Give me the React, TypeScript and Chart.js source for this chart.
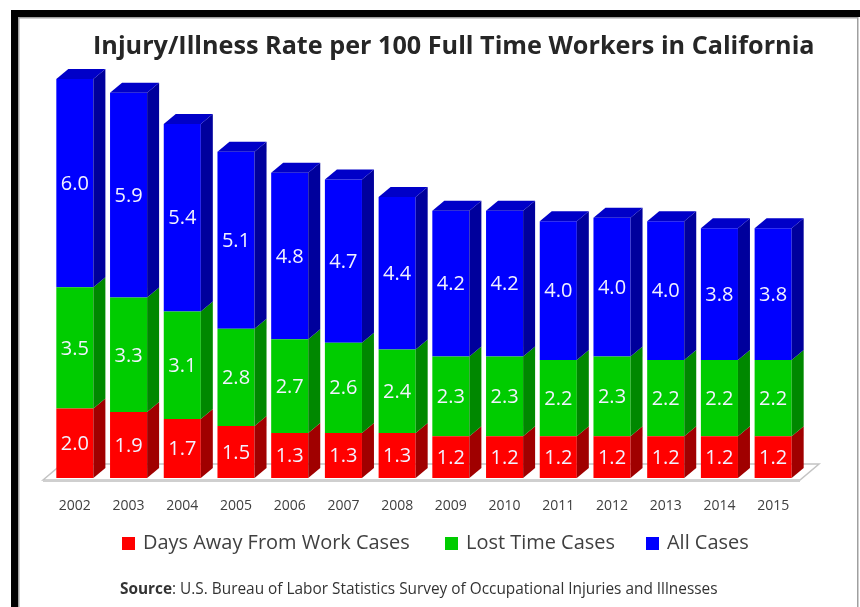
import React, { useEffect, useRef } from 'react';
import { Chart, registerables } from 'chart.js';
Chart.register(...registerables);

const years = ['2002', '2003', '2004', '2005', '2006', '2007', '2008', '2009', '2010', '2011', '2012', '2013', '2014', '2015'];
const daysAway = [2.0, 1.9, 1.7, 1.5, 1.3, 1.3, 1.3, 1.2, 1.2, 1.2, 1.2, 1.2, 1.2, 1.2];
const lostTime = [3.5, 3.3, 3.1, 2.8, 2.7, 2.6, 2.4, 2.3, 2.3, 2.2, 2.3, 2.2, 2.2, 2.2];
const allCases = [6.0, 5.9, 5.4, 5.1, 4.8, 4.7, 4.4, 4.2, 4.2, 4.0, 4.0, 4.0, 3.8, 3.8];
const seriesNames = ['Days Away From Work Cases', 'Lost Time Cases', 'All Cases'];
const titleText = 'Injury/Illness Rate per 100 Full Time Workers in California';
const sourceBold = 'Source';
const sourceRest = ': U.S. Bureau of Labor Statistics Survey of Occupational Injuries and Illnesses';

const FRONT = ['#ff0000', '#00cc00', '#0000ff'];
const SIDE = ['#a00000', '#008800', '#00009c'];
const TOP = ['#cc0000', '#00a800', '#0000c8'];
const DX = 12;
const DY = 10;
const FONT = '"Open Sans", "Noto Sans", sans-serif';

function fitFont(ctx: CanvasRenderingContext2D, text: string, weight: string, target: number, base: number) {
  ctx.font = `${weight} ${base}px ${FONT}`;
  const w = ctx.measureText(text).width;
  return Math.max(6, base * target / w);
}

const decorPlugin = {
  id: 'decor',
  beforeDraw(chart: any) {
    const ctx = chart.ctx as CanvasRenderingContext2D;
    ctx.save();
    ctx.fillStyle = '#ffffff';
    ctx.fillRect(0, 0, chart.width, chart.height);
    // frame
    ctx.fillStyle = '#000000';
    ctx.fillRect(11, 10, 849, 7);
    ctx.fillRect(11, 10, 7, 597);
    ctx.fillStyle = '#a0a0a0';
    ctx.fillRect(18, 17, 840, 1.5);
    ctx.fillRect(18, 17, 1.5, 590);
    ctx.fillRect(857, 17, 1.5, 590);
    // title
    const ts = fitFont(ctx, titleText, 'bold', 722, 24);
    ctx.font = `bold ${ts}px ${FONT}`;
    ctx.fillStyle = '#262626';
    ctx.textAlign = 'left';
    ctx.textBaseline = 'alphabetic';
    ctx.fillText(titleText, 93, 54);
    // legend
    const lx = [122, 445, 646];
    const ls = fitFont(ctx, seriesNames[0], 'normal', 267, 18);
    ctx.font = `${ls}px ${FONT}`;
    ctx.textBaseline = 'middle';
    for (let i = 0; i < 3; i++) {
      ctx.fillStyle = FRONT[i];
      ctx.fillRect(lx[i], 537, 13, 13);
      ctx.fillStyle = '#404040';
      ctx.fillText(seriesNames[i], lx[i] + 21, 543);
    }
    // source
    ctx.font = `bold 13px ${FONT}`;
    const wb = ctx.measureText(sourceBold).width;
    ctx.font = `13px ${FONT}`;
    const wr = ctx.measureText(sourceRest).width;
    const k = 598 / (wb + wr);
    const fs = 13 * k;
    ctx.fillStyle = '#333333';
    ctx.textBaseline = 'alphabetic';
    ctx.font = `bold ${fs}px ${FONT}`;
    ctx.fillText(sourceBold, 120, 594);
    const wb2 = ctx.measureText(sourceBold).width;
    ctx.font = `${fs}px ${FONT}`;
    ctx.fillText(sourceRest, 120 + wb2, 594);
    ctx.restore();
  },
  beforeDatasetsDraw(chart: any) {
    const ctx = chart.ctx as CanvasRenderingContext2D;
    const a = chart.chartArea;
    ctx.save();
    // floor slab
    const fl = a.left - 5, fr = a.right, fy = a.bottom + 2;
    ctx.beginPath();
    ctx.moveTo(fl, fy);
    ctx.lineTo(fl + 19, fy - 16);
    ctx.lineTo(fr + 19, fy - 16);
    ctx.lineTo(fr, fy);
    ctx.closePath();
    ctx.fillStyle = '#ffffff';
    ctx.fill();
    ctx.strokeStyle = '#c4c4c4';
    ctx.lineWidth = 1.5;
    ctx.stroke();
    ctx.fillStyle = '#cfcfcf';
    ctx.fillRect(fl, fy, fr - fl, 2);
    ctx.restore();
  },
  afterDatasetsDraw(chart: any) {
    const ctx = chart.ctx as CanvasRenderingContext2D;
    ctx.save();
    for (let d = 0; d < 3; d++) {
      const meta = chart.getDatasetMeta(d);
      meta.data.forEach((el: any) => {
        const left = el.x - el.width / 2;
        const right = el.x + el.width / 2;
        const top = el.y;
        const bottom = el.base;
        ctx.beginPath();
        ctx.moveTo(right, top);
        ctx.lineTo(right + DX, top - DY);
        ctx.lineTo(right + DX, bottom - DY);
        ctx.lineTo(right, bottom);
        ctx.closePath();
        ctx.fillStyle = SIDE[d];
        ctx.fill();
        if (d === 2) {
          ctx.beginPath();
          ctx.moveTo(left, top);
          ctx.lineTo(left + DX, top - DY);
          ctx.lineTo(right + DX, top - DY);
          ctx.lineTo(right, top);
          ctx.closePath();
          ctx.fillStyle = TOP[d];
          ctx.fill();
        }
      });
    }
    // value labels
    ctx.font = `20px ${FONT}`;
    ctx.fillStyle = '#f2f2ff';
    ctx.textAlign = 'center';
    ctx.textBaseline = 'middle';
    for (let d = 0; d < 3; d++) {
      const meta = chart.getDatasetMeta(d);
      const vals = chart.data.datasets[d].data;
      meta.data.forEach((el: any, i: number) => {
        ctx.fillText(Number(vals[i]).toFixed(1), el.x, (el.y + el.base) / 2 + 1);
      });
    }
    ctx.restore();
  },
};

export default function App() {
  const ref = useRef<HTMLCanvasElement>(null);
  useEffect(() => {
    document.body.style.margin = '0';
    const chart = new Chart(ref.current!, {
      type: 'bar',
      data: {
        labels: years,
        datasets: [
          { label: seriesNames[0], data: daysAway, backgroundColor: FRONT[0], borderWidth: 0 },
          { label: seriesNames[1], data: lostTime, backgroundColor: FRONT[1], borderWidth: 0 },
          { label: seriesNames[2], data: allCases, backgroundColor: FRONT[2], borderWidth: 0 },
        ],
      },
      options: {
        responsive: false,
        animation: false,
        devicePixelRatio: 1,
        layout: { padding: { top: 61.6, left: 48, right: 60, bottom: 0 } },
        datasets: { bar: { categoryPercentage: 1, barPercentage: 0.69 } },
        plugins: { legend: { display: false }, title: { display: false }, tooltip: { enabled: false } },
        scales: {
          x: {
            stacked: true,
            grid: { display: false, drawTicks: false },
            border: { display: false },
            ticks: { color: '#404040', font: { family: FONT, size: 14 }, padding: 20, maxRotation: 0 },
            afterFit: (s: any) => { s.height = 129; },
          },
          y: { stacked: true, display: false, min: 0, max: 12 },
        },
      },
      plugins: [decorPlugin],
    });
    return () => chart.destroy();
  }, []);
  return (
    <div style={{ position: 'absolute', left: 0, top: 0, width: 860, height: 607 }}>
      <canvas ref={ref} width={860} height={607} />
    </div>
  );
}
